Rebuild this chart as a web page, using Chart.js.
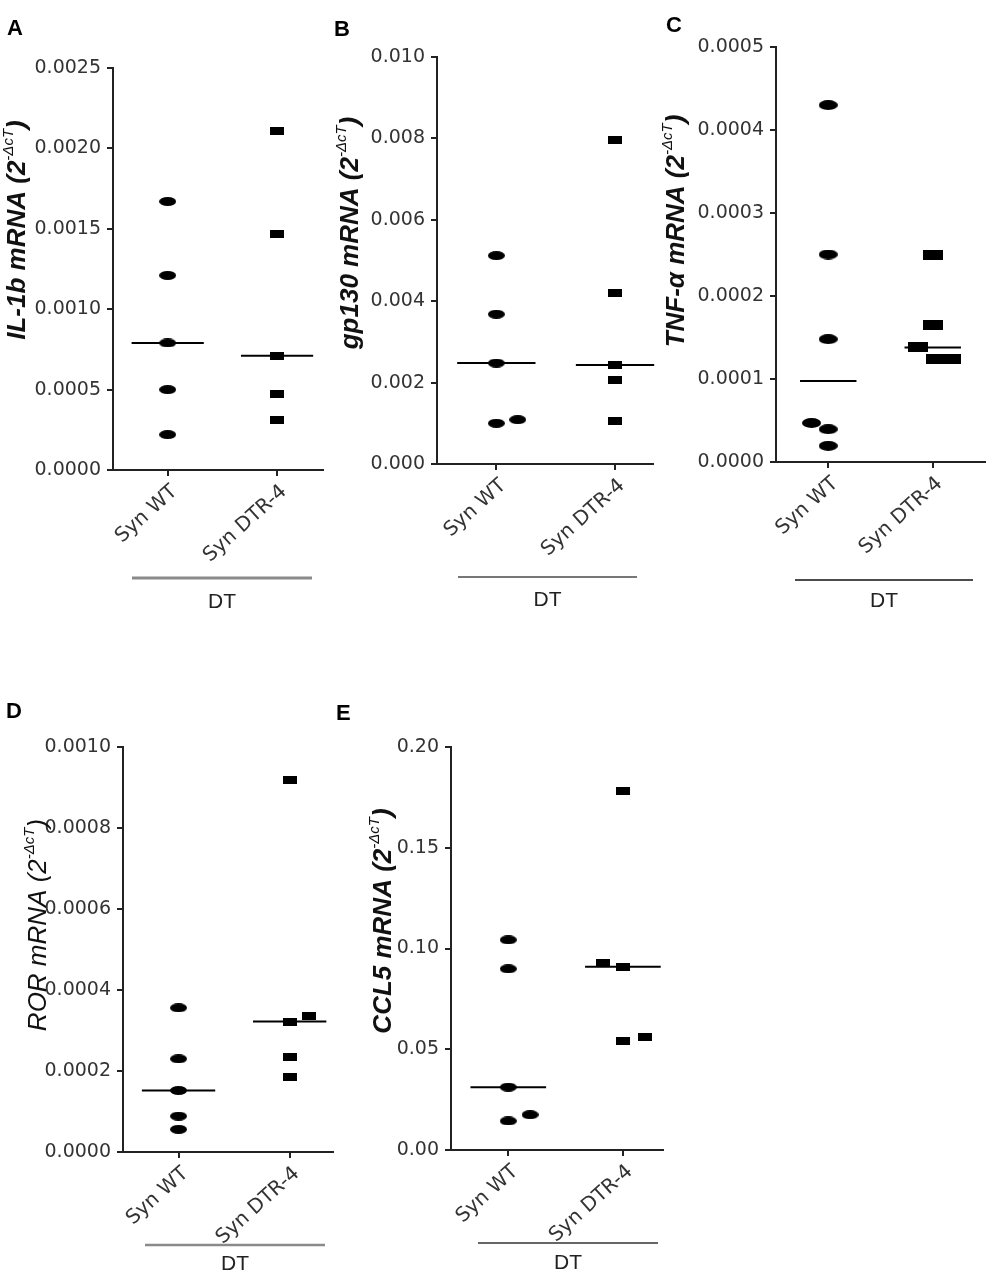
<!DOCTYPE html>
<html>
<head>
<meta charset="utf-8">
<script src="https://cdn.jsdelivr.net/npm/chart.js@4.4.1/dist/chart.umd.min.js"></script>
<style>
  body { margin: 0; background: #fff; }
  #fig { position: relative; width: 992px; height: 1278px; }
  #fig canvas { position: absolute; }
</style>
</head>
<body>
<div id="fig"></div>
<script>
// groups on the x axis
const groups = ["Syn WT", "Syn DTR-4"];

// values (2^-dCT)
const il1bWT = [0.00167, 0.00121, 0.00079, 0.00050, 0.00022];
const il1bDTR = [0.00211, 0.00147, 0.00071, 0.00047, 0.00031];
const gp130WT = [0.00512, 0.00368, 0.00248, 0.00100, 0.00109];
const gp130DTR = [0.00795, 0.00419, 0.00243, 0.00206, 0.00106];
const tnfWT = [0.00043, 0.00025, 0.000148, 0.000047, 0.0000395, 0.0000195];
const tnfDTR = [0.000249, 0.0001646, 0.000138, 0.0001237, 0.0001237];
const rorWT = [0.000356, 0.00023, 0.000152, 0.0000885, 0.0000559];
const rorDTR = [0.000918, 0.000322, 0.000335, 0.000235, 0.000186];
const ccl5WT = [0.1043, 0.0899, 0.0312, 0.0144, 0.0175];
const ccl5DTR = [0.178, 0.0927, 0.0909, 0.0541, 0.0563];

// y axis ranges: min, max, step
const il1bTicks = [0, 0.0025, 0.0005];
const gp130Ticks = [0, 0.010, 0.002];
const tnfTicks = [0, 0.0005, 0.0001];
const rorTicks = [0, 0.0010, 0.0002];
const ccl5Ticks = [0, 0.20, 0.05];

function median(a) {
  const s = [...a].sort((p, q) => p - q);
  const n = s.length;
  return n % 2 ? s[(n - 1) / 2] : (s[n / 2 - 1] + s[n / 2]) / 2;
}

function mark(shape, w, h) {
  const c = document.createElement("canvas");
  c.width = w; c.height = h;
  const x = c.getContext("2d");
  x.fillStyle = "#000";
  if (shape === "ellipse") {
    x.beginPath();
    x.ellipse(w / 2, h / 2, w / 2, h / 2, 0, 0, Math.PI * 2);
    x.fill();
  } else {
    x.fillRect(0, 0, w, h);
  }
  return c;
}

// layout of each panel (figure pixels); side shifts spread overlapping dots
const panels = [
  { letter: "A", gene: "IL-1b", weight: "bold", wt: il1bWT, dtr: il1bDTR, yt: il1bTicks, dec: 4,
    box: [0, 0, 330, 620], area: [113, 68, 330, 470], xr: [-0.5, 1.42], half: 0.33,
    wtShift: [], dtrShift: [], dot: [17, 9], sq: [14, 8],
    letterAt: [7, 29], titleAt: [18, 230], bracket: [132, 312, 578, 602], bracketColor: "#8a8a8a", bracketWidth: 3 },
  { letter: "B", gene: "gp130", weight: "bold", wt: gp130WT, dtr: gp130DTR, yt: gp130Ticks, dec: 3,
    box: [330, 0, 330, 620], area: [437, 57, 660, 464], xr: [-0.5, 1.32], half: 0.33,
    wtShift: [0, 0, 0, 0, 0.18], dtrShift: [], dot: [17, 9], sq: [14, 8],
    letterAt: [334, 30], titleAt: [351, 233], bracket: [458, 637, 577, 600], bracketColor: "#777", bracketWidth: 2 },
  { letter: "C", gene: "TNF-\u03b1", weight: "bold", wt: tnfWT, dtr: tnfDTR, yt: tnfTicks, dec: 4,
    box: [660, 0, 332, 620], area: [776, 47, 985, 462], xr: [-0.5, 1.5], half: 0.27,
    wtShift: [0, 0, 0, -0.16, 0, 0], dtrShift: [0, 0, -0.14, 0.03, 0.17], dot: [19, 10], sq: [20, 10],
    letterAt: [666, 26], titleAt: [677, 231], bracket: [795, 973, 580, 601], bracketColor: "#111", bracketWidth: 1.5 },
  { letter: "D", gene: "ROR", weight: "normal", wt: rorWT, dtr: rorDTR, yt: rorTicks, dec: 4,
    box: [0, 690, 340, 588], area: [123, 747, 338, 1152], xr: [-0.5, 1.39], half: 0.33,
    wtShift: [], dtrShift: [0, 0, 0.17, 0, 0], dot: [17, 9], sq: [14, 8],
    letterAt: [6, 712], titleAt: [39, 925], bracket: [145, 325, 1245, 1264], bracketColor: "#8a8a8a", bracketWidth: 2.5 },
  { letter: "E", gene: "CCL5", weight: "bold", wt: ccl5WT, dtr: ccl5DTR, yt: ccl5Ticks, dec: 2,
    box: [330, 690, 340, 588], area: [451, 747, 665, 1150], xr: [-0.5, 1.35], half: 0.33,
    wtShift: [0, 0, 0, 0, 0.19], dtrShift: [0, -0.17, 0, 0, 0.19], dot: [17, 9], sq: [14, 8],
    letterAt: [336, 714], titleAt: [384, 921], bracket: [478, 658, 1243, 1263], bracketColor: "#333", bracketWidth: 1.5 }
];

const tickFont = { family: "DejaVu Sans", size: 19 };
const groupFont = { family: "DejaVu Sans", size: 20 };
const axisColor = "#222";

const decor = {
  id: "decor",
  afterDraw(chart, args, opts) {
    const p = opts.panel;
    const ctx = chart.ctx;
    const ox = p.box[0], oy = p.box[1];
    ctx.save();
    // panel letter
    ctx.fillStyle = "#000";
    ctx.font = "bold 22px 'Liberation Sans', Arial, sans-serif";
    ctx.textBaseline = "middle";
    ctx.textAlign = "left";
    ctx.fillText(p.letter, p.letterAt[0] - ox, p.letterAt[1] - oy);

    // y axis title with superscript
    ctx.save();
    ctx.translate(p.titleAt[0] - ox, p.titleAt[1] - oy);
    ctx.rotate(-Math.PI / 2);
    const mainFont = "italic " + p.weight + " 26px 'Liberation Sans', Arial, sans-serif";
    const supFont = "italic normal 15px 'Liberation Sans', Arial, sans-serif";
    const t1 = p.gene + " mRNA (2", t2 = "-\u0394cT", t3 = ")";
    ctx.font = mainFont; const w1 = ctx.measureText(t1).width, w3 = ctx.measureText(t3).width;
    ctx.font = supFont; const w2 = ctx.measureText(t2).width;
    let x = -(w1 + w2 + w3) / 2;
    ctx.fillStyle = "#111";
    ctx.textAlign = "left";
    ctx.textBaseline = "middle";
    ctx.font = mainFont; ctx.fillText(t1, x, 0); x += w1;
    ctx.font = supFont; ctx.fillText(t2, x, -9); x += w2;
    ctx.font = mainFont; ctx.fillText(t3, x, 0);
    ctx.restore();

    // DT bracket
    ctx.strokeStyle = p.bracketColor;
    ctx.lineWidth = p.bracketWidth;
    ctx.beginPath();
    ctx.moveTo(p.bracket[0] - ox, p.bracket[2] - oy);
    ctx.lineTo(p.bracket[1] - ox, p.bracket[2] - oy);
    ctx.stroke();
    ctx.fillStyle = "#222";
    ctx.font = "21px 'Liberation Sans', Arial, sans-serif";
    ctx.textAlign = "center";
    ctx.fillText("DT", (p.bracket[0] + p.bracket[1]) / 2 - ox, p.bracket[3] - oy);
    ctx.restore();
  }
};

const fig = document.getElementById("fig");

panels.forEach((p) => {
  const cv = document.createElement("canvas");
  cv.width = p.box[2];
  cv.height = p.box[3];
  cv.style.left = p.box[0] + "px";
  cv.style.top = p.box[1] + "px";
  fig.appendChild(cv);

  const dot = mark("ellipse", p.dot[0], p.dot[1]);
  const sq = mark("rect", p.sq[0], p.sq[1]);
  const wtPts = p.wt.map((v, i) => ({ x: 0 + (p.wtShift[i] || 0), y: v }));
  const dtrPts = p.dtr.map((v, i) => ({ x: 1 + (p.dtrShift[i] || 0), y: v }));
  const mWT = median(p.wt), mDTR = median(p.dtr);

  const gridOpts = { drawOnChartArea: false, drawTicks: true, tickLength: 6, color: axisColor, lineWidth: 2 };

  new Chart(cv, {
    type: "scatter",
    data: {
      datasets: [
        { label: groups[0], data: wtPts, pointStyle: dot, pointRadius: 6 },
        { label: groups[1], data: dtrPts, pointStyle: sq, pointRadius: 6 },
        { type: "line", label: "median WT", data: [{ x: -p.half, y: mWT }, { x: p.half, y: mWT }],
          borderColor: "#000", borderWidth: 2, pointRadius: 0 },
        { type: "line", label: "median DTR", data: [{ x: 1 - p.half, y: mDTR }, { x: 1 + p.half, y: mDTR }],
          borderColor: "#000", borderWidth: 2, pointRadius: 0 }
      ]
    },
    options: {
      responsive: false,
      animation: false,
      clip: false,
      layout: { padding: { left: 0, top: p.area[1] - p.box[1], right: p.box[0] + p.box[2] - p.area[2], bottom: 0 } },
      plugins: { legend: { display: false }, tooltip: { enabled: false }, decor: { panel: p } },
      scales: {
        x: {
          type: "linear",
          min: p.xr[0],
          max: p.xr[1],
          afterBuildTicks: (s) => { s.ticks = groups.map((g, i) => ({ value: i })); },
          ticks: { callback: (v) => groups[v], minRotation: 42, maxRotation: 42, autoSkip: false,
                   color: "#333", font: groupFont, padding: 4, labelOffset: 7 },
          grid: gridOpts,
          border: { color: axisColor, width: 2 },
          afterFit: (s) => { s.height = p.box[1] + p.box[3] - p.area[3]; s.paddingLeft = 0; s.paddingRight = 0; }
        },
        y: {
          min: p.yt[0],
          max: p.yt[1],
          ticks: { stepSize: p.yt[2], callback: (v) => v.toFixed(p.dec), color: "#333", font: tickFont, padding: 6 },
          grid: gridOpts,
          border: { color: axisColor, width: 2 },
          afterFit: (s) => { s.width = p.area[0] - p.box[0]; s.paddingTop = 0; s.paddingBottom = 0; }
        }
      }
    },
    plugins: [decor]
  });
});
</script>
</body>
</html>
